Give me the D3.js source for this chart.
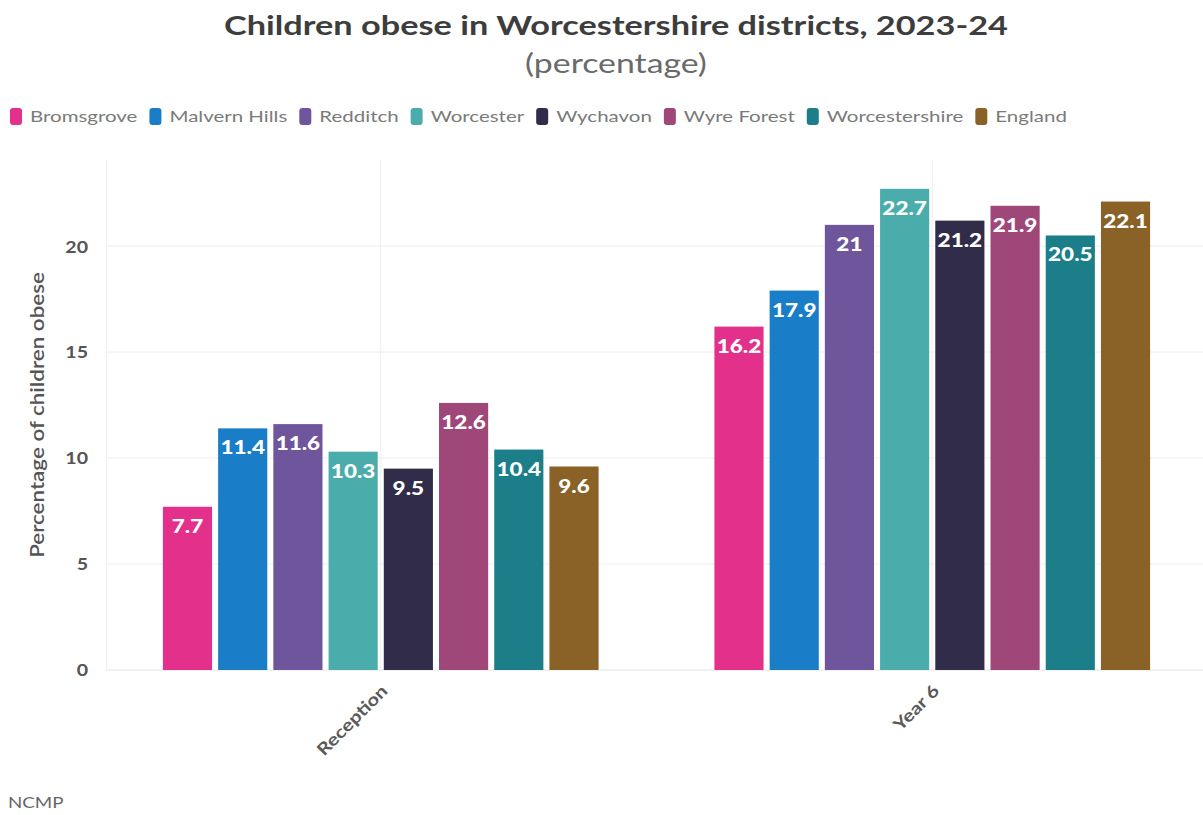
<!DOCTYPE html>
<html>
<head>
<meta charset="utf-8">
<script src="https://cdn.jsdelivr.net/npm/d3@7"></script>
<style>
  html, body { margin: 0; padding: 0; background: #fff; }
  svg { display: block; font-family: "Source Sans Pro", Lato, "Open Sans", sans-serif; }
</style>
</head>
<body>
<svg id="chart" width="1203" height="815"></svg>
<script>
// ---- data ----
const groups = ["Reception", "Year 6"];
const seriesNames = ["Bromsgrove", "Malvern Hills", "Redditch", "Worcester", "Wychavon", "Wyre Forest", "Worcestershire", "England"];
const receptionValues = [7.7, 11.4, 11.6, 10.3, 9.5, 12.6, 10.4, 9.6];
const year6Values = [16.2, 17.9, 21, 22.7, 21.2, 21.9, 20.5, 22.1];
const seriesColors = ["#e3318b", "#1a7dc7", "#6f559c", "#4aadab", "#322c4b", "#9f4779", "#1b7e89", "#8a6126"];
const yTicks = [0, 5, 10, 15, 20];
const titleText = "Children obese in Worcestershire districts, 2023-24";
const subtitleText = "(percentage)";
const yAxisTitle = "Percentage of children obese";
const sourceText = "NCMP";

const valuesByGroup = { "Reception": receptionValues, "Year 6": year6Values };

// horizontal stretch helper (reference text is wider than its height suggests)
function stretch(sel, k) {
  sel.each(function () {
    const w = this.getComputedTextLength();
    d3.select(this).attr("textLength", w * k).attr("lengthAdjust", "spacingAndGlyphs");
  });
}

const svg = d3.select("#chart");
const W = 1203, H = 815;
const margin = { left: 105, right: -5, top: 160, bottom: 145 };
const plotW = W - margin.left - margin.right;
const plotH = H - margin.top - margin.bottom;

// title
svg.append("text")
  .attr("x", 616).attr("y", 35)
  .attr("text-anchor", "middle")
  .attr("font-size", 27).attr("font-weight", 700)
  .attr("fill", "#3d3d3d")
  .text(titleText).call(stretch, 1.27);
svg.append("text")
  .attr("x", 616).attr("y", 73)
  .attr("text-anchor", "middle")
  .attr("font-size", 26)
  .attr("fill", "#6a6a6a")
  .text(subtitleText).call(stretch, 1.3);

// legend
const legend = svg.append("g").attr("transform", "translate(10,116)");
let lx = 0;
seriesNames.forEach((name, i) => {
  const g = legend.append("g").attr("transform", `translate(${lx},0)`);
  g.append("rect")
    .attr("x", 0).attr("y", -8).attr("width", 12).attr("height", 17)
    .attr("rx", 3).attr("fill", seriesColors[i]);
  const t = g.append("text")
    .attr("x", 20).attr("y", 6)
    .attr("font-size", 16).attr("fill", "#7a7a7a")
    .text(name).call(stretch, 1.28);
  lx += 20 + (+t.attr("textLength")) + 12;
});

const plot = svg.append("g").attr("transform", `translate(${margin.left},${margin.top})`);

const x0 = d3.scaleBand().domain(groups).range([0, plotW]).paddingInner(0).paddingOuter(0);
const x1 = d3.scaleBand().domain(seriesNames).range([x0.bandwidth() * 0.105, x0.bandwidth() * 0.895]).paddingInner(0.11).paddingOuter(0);
const y = d3.scaleLinear().domain([0, 24.06]).range([plotH, 0]);

// gridlines
plot.append("g").selectAll("line").data(yTicks).join("line")
  .attr("x1", 0).attr("x2", plotW)
  .attr("y1", d => y(d)).attr("y2", d => y(d))
  .attr("stroke", d => d === 0 ? "#e4e4e4" : "#eeeeee").attr("stroke-width", 1);
plot.append("g").selectAll("line").data(groups).join("line")
  .attr("x1", d => x0(d) + x0.bandwidth() / 2).attr("x2", d => x0(d) + x0.bandwidth() / 2)
  .attr("y1", 0).attr("y2", plotH)
  .attr("stroke", "#eeeeee");
plot.append("line").attr("x1", 1.5).attr("x2", 1.5).attr("y1", 0).attr("y2", plotH).attr("stroke", "#f0f0f0");

// y axis
const yAxis = d3.axisLeft(y).tickValues(yTicks).tickSize(0).tickPadding(17);
const yg = plot.append("g").call(yAxis);
yg.select(".domain").remove();
yg.selectAll("text").attr("font-size", 17).attr("font-weight", 700).attr("fill", "#555")
  .attr("font-family", "\"Source Sans Pro\", Lato, \"Open Sans\", sans-serif").attr("dy", "0.35em")
  .call(stretch, 1.15);

// x axis
const xAxis = d3.axisBottom(x0).tickSize(0).tickPadding(0);
const xg = plot.append("g").attr("transform", `translate(0,${plotH})`).call(xAxis);
xg.select(".domain").remove();
xg.selectAll("text")
  .attr("font-size", 17).attr("font-weight", 700).attr("fill", "#5a5a5a")
  .attr("font-family", "\"Source Sans Pro\", Lato, \"Open Sans\", sans-serif")
  .attr("text-anchor", "end")
  .attr("dy", 0)
  .attr("transform", "translate(8,22) rotate(-45)")
  .call(stretch, 1.2);

// y title
svg.append("text")
  .attr("transform", `translate(44,${margin.top + plotH / 2}) rotate(-90)`)
  .attr("text-anchor", "middle")
  .attr("font-size", 20).attr("font-weight", 600).attr("fill", "#555")
  .text(yAxisTitle).call(stretch, 1.12);

// bars
const gg = plot.selectAll("g.grp").data(groups).join("g").attr("class", "grp")
  .attr("transform", d => `translate(${x0(d)},0)`);
const bars = gg.selectAll("g.bar")
  .data(g => valuesByGroup[g].map((v, i) => ({ name: seriesNames[i], value: v, color: seriesColors[i] })))
  .join("g").attr("class", "bar");
bars.append("rect")
  .attr("x", d => x1(d.name)).attr("width", x1.bandwidth())
  .attr("y", d => y(d.value)).attr("height", d => plotH - y(d.value))
  .attr("fill", d => d.color);
bars.append("text")
  .attr("x", d => x1(d.name) + x1.bandwidth() / 2)
  .attr("y", d => y(d.value) + 26)
  .attr("text-anchor", "middle")
  .attr("font-size", 18).attr("font-weight", 900)
  .attr("fill", "#fff")
  .attr("stroke", d => d.color).attr("stroke-width", 3).attr("paint-order", "stroke")
  .text(d => d.value)
  .call(stretch, 1.25);

// source
svg.append("text")
  .attr("x", 8).attr("y", 808)
  .attr("font-size", 15).attr("fill", "#666")
  .text(sourceText).call(stretch, 1.25);
</script>
</body>
</html>
